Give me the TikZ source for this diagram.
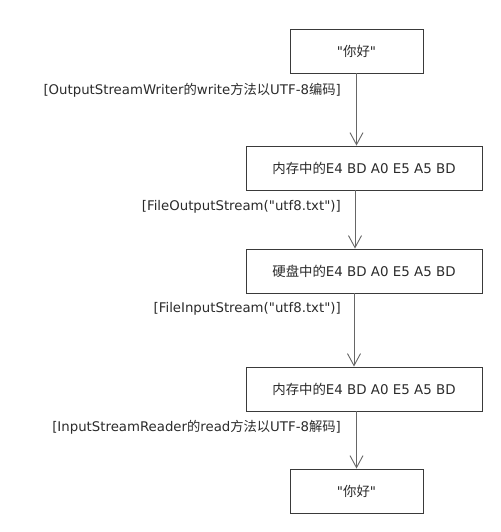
\documentclass[tikz,border=0pt]{standalone}
\usepackage{fontspec}
\setmainfont{DejaVu Sans}[Ligatures=TeXOff]
\newfontfamily\cjk{Noto Sans CJK SC}[Ligatures=TeXOff]
\usetikzlibrary{arrows.meta}
\definecolor{boxline}{HTML}{3A3A3A}
\definecolor{arrline}{HTML}{666666}
\definecolor{txt}{HTML}{2A2A2A}
\begin{document}
\begin{tikzpicture}[x=1pt,y=-1pt,
  box/.style={draw=boxline,line width=0.9pt,minimum height=44pt,inner sep=0pt,text=txt,font=\fontsize{13.4}{15}\selectfont},
  smallbox/.style={box,minimum width=133pt},
  widebox/.style={box,minimum width=236pt},
  flow/.style={draw=arrline,line width=0.9pt,-{Straight Barb[length=12pt,width=13pt,line width=0.9pt]}},
  lbl/.style={anchor=east,inner sep=0pt,text=txt,font=\fontsize{13.3}{15}\selectfont}]
\useasboundingbox (0,0) rectangle (500,532);
\node[smallbox] (b1) at (356.5,51) {"{\cjk 你好}"};
\node[widebox] (b2) at (364,168) {{\cjk 内存中的}E4 BD A0 E5 A5 BD};
\node[widebox] (b3) at (364,271) {{\cjk 硬盘中的}E4 BD A0 E5 A5 BD};
\node[widebox] (b4) at (364,389) {{\cjk 内存中的}E4 BD A0 E5 A5 BD};
\node[smallbox] (b5) at (356.5,491) {"{\cjk 你好}"};
\draw[flow] (b1.south) -- (b1.south |- b2.north);
\draw[flow] ([xshift=-9pt]b2.south) -- ([xshift=-9pt]b3.north);
\draw[flow] ([xshift=-10pt]b3.south) -- ([xshift=-10pt]b4.north);
\draw[flow] (b5.north |- b4.south) -- (b5.north);
\node[lbl] (l1) at (341,90) {[OutputStreamWriter{\cjk 的}write{\cjk 方法以}UTF-8{\cjk 编码}]};
\node[lbl] (l2) at (341,207) {[FileOutputStream("utf8.txt")]};
\node[lbl] (l3) at (341,309) {[FileInputStream("utf8.txt")]};
\node[lbl] (l4) at (341,427) {[InputStreamReader{\cjk 的}read{\cjk 方法以}UTF-8{\cjk 解码}]};
\end{tikzpicture}
\end{document}
